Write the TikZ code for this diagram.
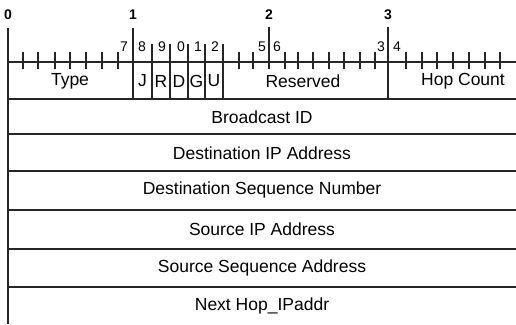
\documentclass[tikz,border=0pt]{standalone}
\usepackage{fontspec}
\setmainfont{Liberation Sans}
\begin{document}
\begin{tikzpicture}[x=1pt,y=-1pt,
  rule/.style={line width=1.3pt,draw=black!85},
  tick/.style={line width=1.1pt,draw=black!85},
  field/.style={inner sep=0pt,anchor=center,font=\fontsize{17.5}{20}\selectfont},
  bitno/.style={inner sep=0pt,anchor=center,font=\fontsize{14}{16}\selectfont},
  major/.style={inner sep=0pt,anchor=center,font=\bfseries\fontsize{14}{16}\selectfont}]
\useasboundingbox (0,0) rectangle (516,324);
% left edge
\draw[rule] (8,28) -- (8,324);
% axis and row lines
\foreach \y in {62,99,134,171,210,249,287}
  \draw[rule] (8,\y) -- (516,\y);
% small ticks
\foreach \x in {23,38,55,70,86,102,118,239,253,285,298,313,329,344,360,375,406,422,437,453,469,485,500}
  \draw[tick] (\x,52) -- (\x,69);
% flag separators
\foreach \x in {152,170,188,205,223}
  \draw[tick] (\x,44) -- (\x,98);
% major lines
\draw[rule] (133,28) -- (133,98);
\draw[rule] (269,27) -- (269,69);
\draw[rule] (388,27) -- (388,98);
% major labels
\node[major] (m0) at (8,15) {0};
\node[major] (m1) at (133,15) {1};
\node[major] (m2) at (269,15) {2};
\node[major] (m3) at (388,15) {3};
% bit numbers
\node[bitno] (b7) at (124,47) {7};
\node[bitno] (b8) at (142,47) {8};
\node[bitno] (b9) at (162,47) {9};
\node[bitno] (b10) at (181,47) {0};
\node[bitno] (b11) at (198,47) {1};
\node[bitno] (b12) at (215,47) {2};
\node[bitno] (b15) at (262,47) {5};
\node[bitno] (b16) at (277,47) {6};
\node[bitno] (b23) at (381,47) {3};
\node[bitno] (b24) at (397,47) {4};
% first row fields
\node[field] (type) at (70,81) {Type};
\node[field] (j) at (142.5,81) {J};
\node[field] (r) at (161,81) {R};
\node[field] (d) at (179,81) {D};
\node[field] (g) at (196.5,81) {G};
\node[field] (u) at (214,81) {U};
\node[field] (res) at (303,81) {Reserved};
\node[field] (hop) at (463,81) {Hop Count};
% other rows
\node[field] (bid) at (262,117) {Broadcast ID};
\node[field] (dip) at (262,153) {Destination IP Address};
\node[field] (dsn) at (262,190) {Destination Sequence Number};
\node[field] (sip) at (262,229) {Source IP Address};
\node[field] (ssa) at (262,268) {Source Sequence Address};
\node[field] (nh) at (262,306) {Next Hop\_IPaddr};
\end{tikzpicture}
\end{document}
